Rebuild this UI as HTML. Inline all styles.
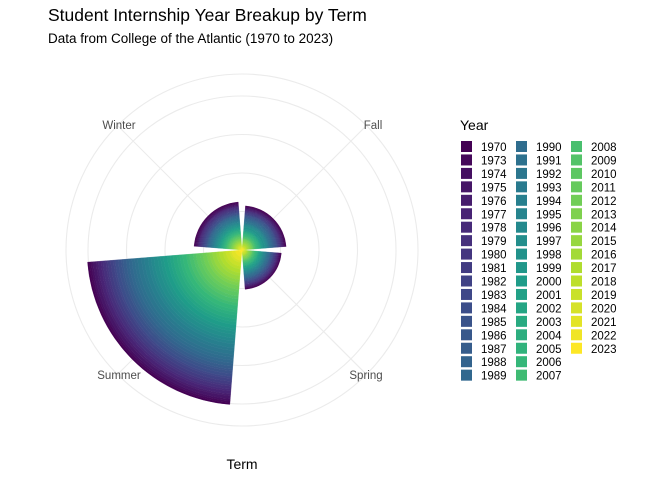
<!DOCTYPE html>
<html><head><meta charset="utf-8"><style>
body{margin:0;background:#fff;}
svg text{font-family:"Liberation Sans",sans-serif;}
</style></head><body>
<svg id="chart" width="672" height="480" xmlns="http://www.w3.org/2000/svg">
<rect width="672" height="480" fill="#fff"/>
<text x="48" y="21" font-size="17.5" fill="#000">Student Internship Year Breakup by Term</text>
<text x="48" y="43" font-size="13.5" fill="#000">Data from College of the Atlantic (1970 to 2023)</text>
<g id="grid"></g><g id="bars"></g><g id="labels"></g>
<text x="242" y="469" font-size="14" text-anchor="middle" fill="#000">Term</text>
<text x="460" y="130" font-size="14" fill="#000">Year</text>
<g id="legend"></g>
</svg>
<script>
const terms = ["Fall","Spring","Summer","Winter"];
const years = [1970,1973,1974,1975,1976,1977,1978,1979,1980,1981,1982,1983,1984,1985,1986,1987,1988,1989,
1990,1991,1992,1993,1994,1995,1996,1997,1998,1999,2000,2001,2002,2003,2004,2005,2006,2007,
2008,2009,2010,2011,2012,2013,2014,2015,2016,2017,2018,2019,2020,2021,2022,2023];
const fallCounts = [1,1,0,1,1,1,0,1,1,1,1,0,1,1,1,1,1,1,
1,1,1,0,1,1,1,1,2,1,1,0,1,1,1,1,1,1,1,1,0,1,1,1,1,1,1,1,1,1,0,1,1,1];
const springCounts = [1,0,1,1,0,1,1,0,1,1,1,0,1,1,1,0,1,1,
1,1,0,1,1,1,1,0,1,1,1,1,1,0,1,1,1,1,1,1,0,1,1,1,1,1,0,1,1,1,1,0,1,1];
const summerCounts = [2,2,2,3,2,3,2,3,2,3,3,2,3,3,2,3,3,3,
3,3,4,3,4,3,3,4,3,3,4,3,3,4,3,3,
4,3,4,3,4,3,4,3,3,4,3,4,3,4,2,4,4,3];
const winterCounts = [1,1,1,1,0,1,1,1,1,1,1,1,1,1,0,1,1,1,
1,1,1,1,1,1,1,1,1,1,1,1,1,1,1,1,1,1,1,1,1,1,1,1,1,1,1,1,1,1,1,1,1,1];
const seriesByTerm = [fallCounts, springCounts, summerCounts, winterCounts];
const rBreaks = [40,80,120,160];

const NS="http://www.w3.org/2000/svg";
const cx=242, cy=250, k=0.9625, outerR=176;
const rScale = v => v*k;
const thetaCenter = i => (45+90*i)*Math.PI/180;
const halfW = 40.5*Math.PI/180;
const vir=[[68,1,84],[72,40,120],[62,74,137],[49,104,142],[38,130,142],[31,158,137],[53,183,121],[109,205,89],[180,222,44],[253,231,37]];
function color(t){const p=t*(vir.length-1),i=Math.min(Math.floor(p),vir.length-2),f=p-i;
const c=vir[i].map((a,j)=>Math.round(a+(vir[i+1][j]-a)*f));return `rgb(${c})`;}
const pt=(r,a)=>[cx+r*Math.sin(a),cy-r*Math.cos(a)];
function el(tag,attrs,parent){const e=document.createElementNS(NS,tag);for(const a in attrs)e.setAttribute(a,attrs[a]);parent.appendChild(e);return e;}

const grid=document.getElementById('grid');
rBreaks.forEach(b=>{const c=el('circle',{cx:cx,cy:cy,r:rScale(b),fill:'none',stroke:'#ebebeb','stroke-width':1.1},grid);

});
const oc=el('circle',{cx:cx,cy:cy,r:outerR,fill:'none',stroke:'#ebebeb','stroke-width':1.1},grid);


terms.forEach((t,i)=>{const p=pt(outerR,thetaCenter(i));
const l=el('line',{x1:cx,y1:cy,x2:p[0],y2:p[1],stroke:'#ebebeb','stroke-width':1.1},grid);

});

const bars=document.getElementById('bars');
terms.forEach((t,i)=>{
  const vals=seriesByTerm[i];
  const a0=thetaCenter(i)-halfW,a1=thetaCenter(i)+halfW;
  let cum=0;
  for(let y=vals.length-1;y>=0;y--){
    const v=vals[y]; if(!v) continue;
    const r0=rScale(cum), r1=rScale(cum+v); cum+=v;
    const p1=pt(r1,a0),p2=pt(r1,a1),p3=pt(r0,a1),p4=pt(r0,a0);
    const d=`M${p1}A${r1},${r1} 0 0 1 ${p2}L${p3}`+(r0>0?`A${r0},${r0} 0 0 0 ${p4}`:`L${p4}`)+'Z';
    const c=color(y/(years.length-1));
    const e=el('path',{d:d,fill:c,stroke:c,'stroke-width':0.3},bars);
    
    
  }
});

const labels=document.getElementById('labels');
const labPos=[[373,129],[366,379],[119,379],[119,129]];
terms.forEach((t,i)=>{const e=el('text',{x:labPos[i][0],y:labPos[i][1],'font-size':11.5,fill:'#4d4d4d','text-anchor':'middle'},labels);
e.textContent=t;

});

const legend=document.getElementById('legend');
years.forEach((yr,j)=>{const col=j<18?0:(j<36?1:2),row=j<18?j:(j<36?j-18:j-36);
const x=461+col*55,y=141+row*13.45;
const r=el('rect',{x:x,y:y,width:11,height:11,fill:color(j/(years.length-1))},legend);


const tx=el('text',{x:x+20,y:y+10,'font-size':11.5,fill:'#000'},legend);tx.textContent=yr;

});
</script>
</body></html>
